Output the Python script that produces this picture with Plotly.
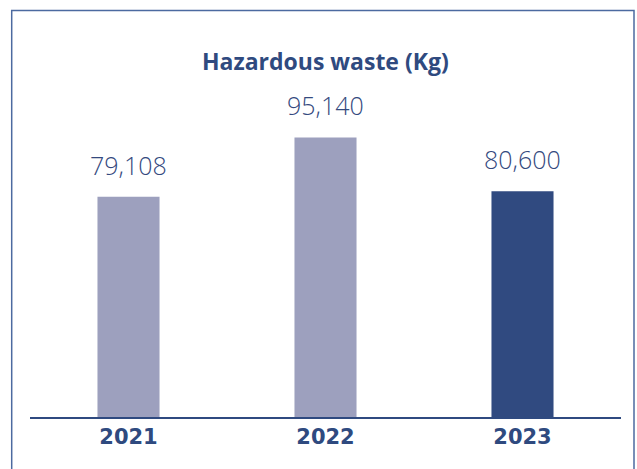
import plotly.graph_objects as go

years = ["2021", "2022", "2023"]
values = [79108, 95140, 80600]
labels = ["79,108", "95,140", "80,600"]
bar_colors = ["#9da0be", "#9da0be", "#304a80"]

W, H = 637, 469
L, R, T, B = 30, 16, 10, 51.5
plot_w = W - L - R
plot_h = H - T - B

y0 = 19400
y1 = y0 + plot_h / 0.003695

fig = go.Figure(go.Bar(
    x=years, y=values, marker_color=bar_colors, marker_line_width=0,
    width=0.315, hoverinfo="skip", cliponaxis=False,
))

for i, (v, lab) in enumerate(zip(values, labels)):
    fig.add_annotation(
        x=i, y=v, text=lab, showarrow=False, yanchor="bottom",
        yshift=13, font=dict(family="Open Sans", size=25, color="#34497e", weight=300),
    )

fig.add_annotation(
    xref="paper", yref="paper", x=(325 - L) / plot_w, y=(H - B - 61) / plot_h,
    text="<b>Hazardous waste (Kg)</b>", showarrow=False, xanchor="center", yanchor="middle",
    font=dict(family="Open Sans", size=23, color="#2f4a7f"),
)

fig.add_shape(
    type="rect", xref="paper", yref="paper",
    x0=(11.7 - L) / plot_w, x1=(634 - L) / plot_w,
    y0=(H - B - 475) / plot_h, y1=(H - B - 10.5) / plot_h,
    line=dict(color="#4c6aa0", width=1.5), fillcolor="rgba(0,0,0,0)", layer="above",
)

fig.update_layout(
    width=W, height=H,
    margin=dict(l=L, r=R, t=T, b=B, pad=0, autoexpand=False),
    paper_bgcolor="white", plot_bgcolor="white",
    showlegend=False,
    xaxis=dict(
        type="category", automargin=False, range=[-0.5, len(years) - 0.5],
        showline=True, linecolor="#2f4a80", linewidth=1.5, showgrid=False,
        ticks="", ticklen=0,
        tickfont=dict(family="DejaVu Sans", size=21, color="#2f4a7f", weight="bold"),
        fixedrange=True,
    ),
    yaxis=dict(range=[y0, y1], visible=False, fixedrange=True, automargin=False),
)

fig.write_html(
    "out.html",
    config={"displayModeBar": False},
    post_script="document.body.style.margin='0';",
)
